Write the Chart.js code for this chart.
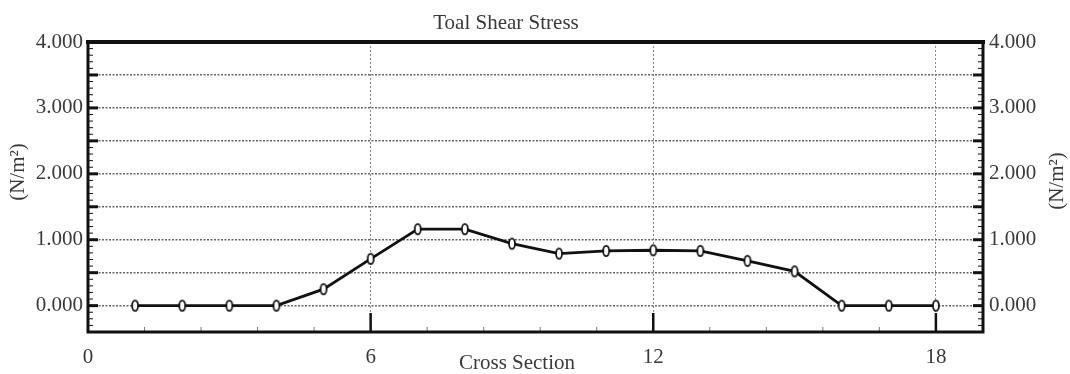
<!DOCTYPE html>
<html><head><meta charset="utf-8">
<script src="https://cdn.jsdelivr.net/npm/chart.js@4.4.1/dist/chart.umd.min.js"></script>
<style>html,body{margin:0;padding:0;background:#fff;}#wrap{width:1070px;height:374px;position:relative;}</style>
</head><body><div id="wrap"><canvas id="c"></canvas></div>
<script>
const crossSections = [1,2,3,4,5,6,7,8,9,10,11,12,13,14,15,16,17,18];
const shearStress = [0,0,0,0,0.25,0.71,1.16,1.16,0.94,0.79,0.83,0.84,0.83,0.68,0.52,0,0,0];
const xTickValues = [0,6,12,18];
const yTickValues = [0,0.5,1,1.5,2,2.5,3,3.5,4];
const yLabelValues = [0,1,2,3,4];
const chartTitle = 'Toal Shear Stress';
const xTitle = 'Cross Section';
const yTitle = '(N/m²)';

const FONT = 'Liberation Serif';
const TXT = '#3a3a3a';

function makeMarker(){
  const c = document.createElement('canvas');
  c.width = 10; c.height = 14;
  const g = c.getContext('2d');
  g.beginPath();
  g.ellipse(5,7,3,5.2,0,0,Math.PI*2);
  g.fillStyle = '#fff'; g.fill();
  g.lineWidth = 1.8; g.strokeStyle = '#111'; g.stroke();
  return c;
}

const decor = {
  id:'decor',
  beforeDatasetsDraw(chart){
    const {ctx, chartArea:a, scales} = chart;
    const x = scales.x, y = scales.y;
    ctx.save();
    ctx.strokeStyle = '#111';
    const seg = (x1,y1,x2,y2)=>{ctx.beginPath();ctx.moveTo(x1,y1);ctx.lineTo(x2,y2);ctx.stroke();};
    for (let i=-4;i<=40;i++){
      const py = y.getPixelForValue(i/10);
      const major = i%5===0;
      ctx.lineWidth = major?3:1;
      const len = major?10:5;
      seg(a.left,py,a.left+len,py);
      seg(a.right,py,a.right-len,py);
    }
    for (let i=1;i*1.2<19;i++){
      const px = x.getPixelForValue(i*1.2);
      const major = i%5===0;
      ctx.lineWidth = major?2.5:1;
      ctx.strokeStyle = major?'#111':'#777';
      seg(px,a.bottom,px,a.bottom-(major?19:5));
    }
    ctx.restore();
  },
  afterDatasetsDraw(chart){
    const {ctx, chartArea:a} = chart;
    ctx.save();
    ctx.strokeStyle = '#111';
    ctx.lineCap = 'square';
    ctx.lineWidth = 4; ctx.beginPath(); ctx.moveTo(a.left,a.top); ctx.lineTo(a.right,a.top); ctx.stroke();
    ctx.lineWidth = 3;
    ctx.beginPath(); ctx.moveTo(a.left,a.top); ctx.lineTo(a.left,a.bottom); ctx.lineTo(a.right,a.bottom); ctx.lineTo(a.right,a.top); ctx.stroke();
    ctx.restore();
  },
  afterDraw(chart){
    const {ctx} = chart;
    ctx.save();
    ctx.fillStyle = TXT;
    ctx.font = '21px "'+FONT+'"';
    ctx.textAlign = 'center'; ctx.textBaseline = 'middle';
    ctx.fillText(chartTitle, 506, 23);
    ctx.fillText(xTitle, 517, 363);
    ctx.save(); ctx.translate(18,172); ctx.rotate(-Math.PI/2); ctx.fillText(yTitle,0,0); ctx.restore();
    ctx.save(); ctx.translate(1057,181); ctx.rotate(-Math.PI/2); ctx.fillText(yTitle,0,0); ctx.restore();
    ctx.restore();
  }
};

const tickFont = {family: FONT, size: 21};
const yLabel = v => yLabelValues.includes(v) ? v.toFixed(3) : '';

new Chart(document.getElementById('c'), {
  type:'line',
  data:{datasets:[{
    data: crossSections.map((c,i)=>({x:c,y:shearStress[i]})),
    borderColor:'#111', borderWidth:2.8,
    pointStyle: makeMarker(), pointRadius:5, tension:0,
    yAxisID:'y'
  }]},
  options:{
    responsive:true, maintainAspectRatio:false, animation:false,
    layout:{padding:{top:42,left:0,right:0,bottom:0}},
    plugins:{legend:{display:false}, tooltip:{enabled:false}, title:{display:false}},
    scales:{
      x:{type:'linear', min:0, max:19, position:'bottom',
        afterBuildTicks:s=>{s.ticks = xTickValues.map(v=>({value:v}));},
        ticks:{font:tickFont, color:TXT, padding:13, autoSkip:false, maxRotation:0, callback:v=>String(v)},
        grid:{drawTicks:false, lineWidth:1, color:c=>(c.tick && c.tick.value===0)?'rgba(0,0,0,0)':'#8a8a8a'},
        border:{display:false, dash:[2,2]},
        afterFit:s=>{s.height=42;}
      },
      y:{type:'linear', min:-0.4, max:4, position:'left',
        afterBuildTicks:s=>{s.ticks = yTickValues.map(v=>({value:v}));},
        ticks:{font:tickFont, color:TXT, padding:5, autoSkip:false, callback:yLabel},
        grid:{drawTicks:false, lineWidth:1.4, color:'#666'},
        border:{display:false, dash:[2,1.5]},
        afterFit:s=>{s.width=88;}
      },
      y2:{type:'linear', min:-0.4, max:4, position:'right', display:true,
        afterBuildTicks:s=>{s.ticks = yTickValues.map(v=>({value:v}));},
        ticks:{font:tickFont, color:TXT, padding:6, autoSkip:false, callback:yLabel},
        grid:{display:false, drawTicks:false},
        border:{display:false},
        afterFit:s=>{s.width=87;}
      }
    }
  },
  plugins:[decor]
});
</script></body></html>
